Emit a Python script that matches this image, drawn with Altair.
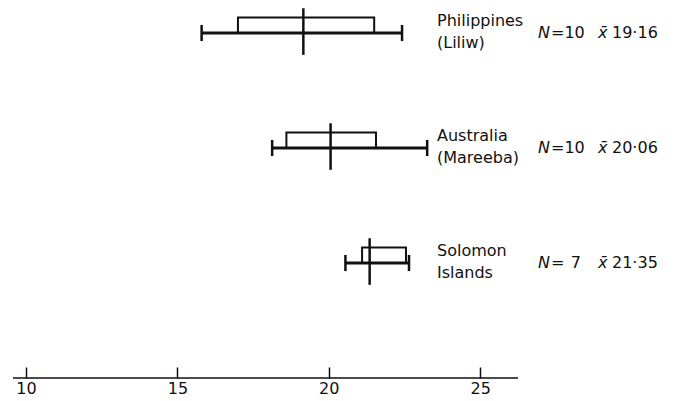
import altair as alt
import pandas as pd

# ---- data ----
populations = ["Philippines\n(Liliw)", "Australia\n(Mareeba)", "Solomon\nIslands"]
n_values = [10, 10, 7]
means = [19.16, 20.06, 21.35]
range_lo = [15.80, 18.13, 20.55]
range_hi = [22.42, 23.25, 22.65]
box_lo = [17.00, 18.60, 21.10]
box_hi = [21.50, 21.56, 22.55]
tick_values = [10, 15, 20, 25]

# ---- layout ----
X_MIN, X_MAX = 9.57, 26.25
ROW_TOP, AXIS_ROW = -0.2174, 3.0
W, H = 505, 370
FONT = "DejaVu Sans"
INK = "#111111"

df = pd.DataFrame({
    "pop": populations,
    "n": n_values,
    "mean": means,
    "range_lo": range_lo,
    "range_hi": range_hi,
    "box_lo": box_lo,
    "box_hi": box_hi,
})
df["row"] = list(range(len(populations)))
df["box_top"] = df["row"] - 0.135
df["cap_top"] = df["row"] - 0.07
df["cap_bot"] = df["row"] + 0.07
df["mean_top"] = df["row"] - 0.215
df["mean_bot"] = df["row"] + 0.19

axis_df = pd.DataFrame({"x0": [X_MIN], "x1": [X_MAX], "y": [AXIS_ROW]})

xscale = alt.Scale(domain=[X_MIN, X_MAX], nice=False, zero=False)
yscale = alt.Scale(domain=[ROW_TOP, AXIS_ROW], nice=False, zero=False, reverse=True)
xaxis = alt.Axis(values=tick_values, orient="bottom", offset=-11, tickSize=11,
                 tickWidth=1.5, tickColor=INK, domain=False, grid=False,
                 labelFont=FONT, labelFontSize=16, labelColor=INK,
                 labelPadding=2, title=None)

base = alt.Chart(df)

range_line = base.mark_rule(color=INK, strokeWidth=3).encode(
    x=alt.X("range_lo:Q", scale=xscale, axis=xaxis),
    x2="range_hi:Q",
    y=alt.Y("row:Q", scale=yscale, axis=None),
)

caps = base.transform_fold(["range_lo", "range_hi"], as_=["end", "xv"]).mark_rule(
    color=INK, strokeWidth=2.5
).encode(
    x=alt.X("xv:Q", scale=xscale, axis=xaxis),
    y=alt.Y("cap_top:Q", scale=yscale, axis=None),
    y2="cap_bot:Q",
)

box = base.mark_rect(fill="white", fillOpacity=0, stroke=INK, strokeWidth=2).encode(
    x=alt.X("box_lo:Q", scale=xscale, axis=xaxis),
    x2="box_hi:Q",
    y=alt.Y("box_top:Q", scale=yscale, axis=None),
    y2="row:Q",
)

mean_line = base.mark_rule(color=INK, strokeWidth=2.5).encode(
    x=alt.X("mean:Q", scale=xscale, axis=xaxis),
    y=alt.Y("mean_top:Q", scale=yscale, axis=None),
    y2="mean_bot:Q",
)

baseline = alt.Chart(axis_df).mark_rule(color=INK, strokeWidth=1.5).encode(
    x=alt.X("x0:Q", scale=xscale, axis=xaxis),
    x2="x1:Q",
    y=alt.Y("y:Q", scale=yscale, axis=None),
)

labels = base.mark_text(
    align="left", baseline="middle", font=FONT, fontSize=16, color=INK,
    lineBreak="\n", lineHeight=22, dy=-12,
).encode(
    x=alt.value(424),
    y=alt.Y("row:Q", scale=yscale, axis=None),
    text="pop:N",
)

n_sym = base.transform_calculate(s="'N'").mark_text(
    align="left", baseline="middle", font=FONT, fontSize=16, fontStyle="italic", color=INK,
).encode(x=alt.value(525), y=alt.Y("row:Q", scale=yscale, axis=None), text="s:N")

n_txt = base.transform_calculate(
    ntext="datum.n < 10 ? '\u2009=\u2009\u2009' + datum.n : '\u2009=' + datum.n"
).mark_text(
    align="left", baseline="middle", font=FONT, fontSize=16, color=INK,
).encode(x=alt.value(538), y=alt.Y("row:Q", scale=yscale, axis=None), text="ntext:N")

x_sym = base.transform_calculate(s="'x\u0304'").mark_text(
    align="left", baseline="middle", font=FONT, fontSize=16, fontStyle="italic", color=INK,
).encode(x=alt.value(585), y=alt.Y("row:Q", scale=yscale, axis=None), text="s:N")

m_txt = base.transform_calculate(
    mtext="replace(format(datum.mean, '.2f'), '.', '\u00b7')"
).mark_text(
    align="left", baseline="middle", font=FONT, fontSize=16, color=INK,
).encode(x=alt.value(599), y=alt.Y("row:Q", scale=yscale, axis=None), text="mtext:N")

chart = alt.layer(
    range_line, caps, box, mean_line, baseline, labels, n_sym, n_txt, x_sym, m_txt
).properties(
    width=W, height=H,
    autosize=alt.AutoSizeParams(type="none"),
    padding={"left": 5, "top": 0, "right": 157, "bottom": 20},
    background="white",
).configure_view(stroke=None)

chart.save("out.html", embed_options={"renderer": "svg", "actions": False})
